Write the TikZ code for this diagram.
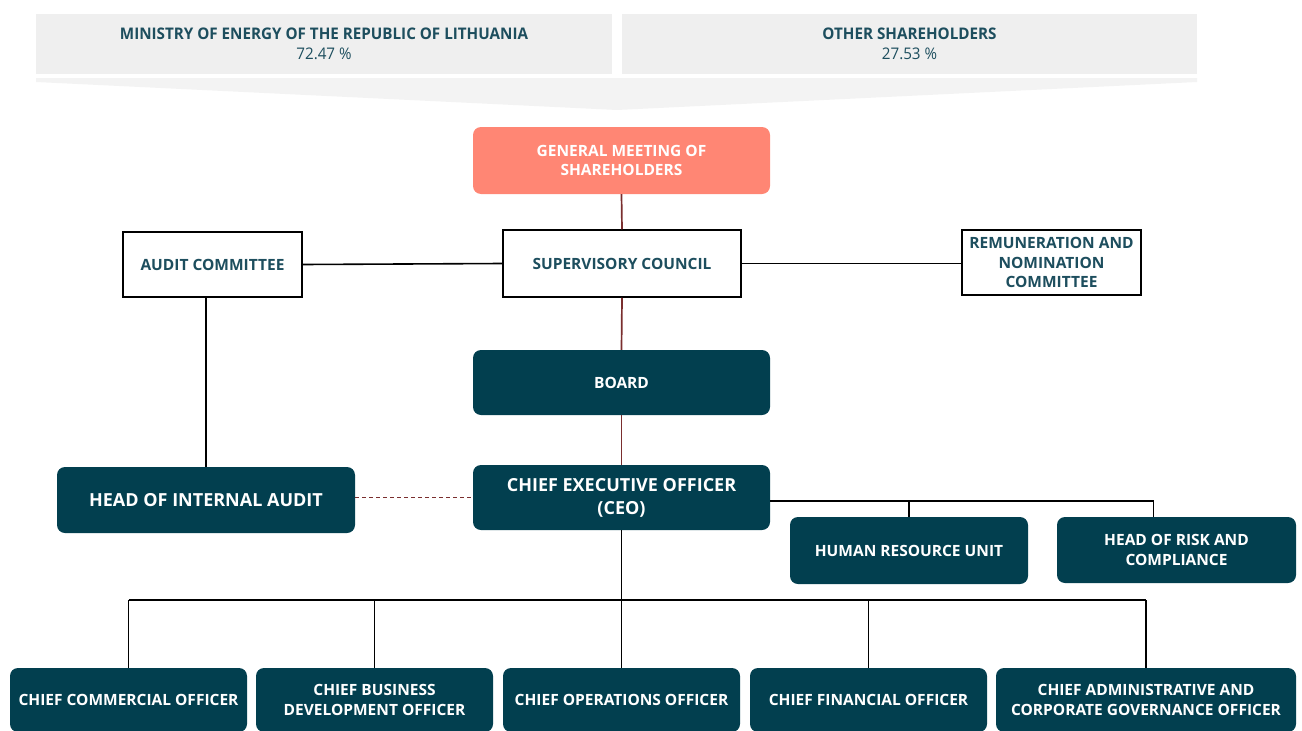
\documentclass[tikz,border=0pt]{standalone}
\usepackage{fontspec}
\usepackage{graphicx}
\setmainfont{Open Sans}
\usetikzlibrary{calc}
\definecolor{teal}{HTML}{023F4F}
\definecolor{tealtext}{HTML}{1D4E5E}
\definecolor{salmon}{HTML}{FF8674}
\definecolor{bannergray}{HTML}{EFEFEF}
\definecolor{chevrongray}{HTML}{F3F3F3}
\definecolor{darkred}{HTML}{7A2E2E}
\tikzset{
  unit/.style={inner sep=0pt, align=center, font=\bfseries\fontsize{15.5}{19.5}\selectfont},
  boxdark/.style={unit, fill=teal, text=white, rounded corners=8pt},
  boxbig/.style={boxdark, font=\bfseries\fontsize{18}{23}\selectfont},
  boxwhite/.style={unit, draw=black, line width=1.5pt, fill=white, text=tealtext},
  boxsalmon/.style={unit, fill=salmon, text=white, rounded corners=8pt},
  banner/.style={inner sep=0pt, align=center, fill=bannergray, text=tealtext,
    font=\bfseries\fontsize{16}{20}\selectfont},
  link/.style={draw=black, line width=1.6pt},
  redlink/.style={draw=darkred, line width=1.7pt},
}
\begin{document}
\begin{tikzpicture}[x=1pt, y=-1pt]
\useasboundingbox (0,0) rectangle (1302,731);

% shareholders banner
\node[banner, minimum width=576pt, minimum height=60pt] (ministry) at (324,44)
  {\scalebox{0.95}[1]{MINISTRY OF ENERGY OF THE REPUBLIC OF LITHUANIA}\\\scalebox{0.95}[1]{\mdseries 72.47 \%}};
\node[banner, minimum width=575pt, minimum height=60pt] (others) at (909.5,44)
  {\scalebox{0.95}[1]{OTHER SHAREHOLDERS}\\\scalebox{0.95}[1]{\mdseries 27.53 \%}};
\fill[chevrongray] (36,78) -- (1197,78) -- (1197,82) -- (617,110) -- (36,82) -- cycle;

% governing bodies
\node[boxsalmon, minimum width=297pt, minimum height=67pt] (gm) at (621.5,160.5)
  {GENERAL MEETING OF\\SHAREHOLDERS};
\node[boxwhite, minimum width=238pt, minimum height=67pt] (sc) at (622,263.5)
  {SUPERVISORY COUNCIL};
\node[boxwhite, minimum width=179pt, minimum height=65pt] (ac) at (212.5,264.5)
  {AUDIT COMMITTEE};
\node[boxwhite, minimum width=179pt, minimum height=65pt] (rem) at (1051.5,262.5)
  {REMUNERATION AND\\NOMINATION\\COMMITTEE};
\node[boxdark, minimum width=297pt, minimum height=65pt] (board) at (621.5,382.5)
  {BOARD};

% management
\node[boxbig, minimum width=297pt, minimum height=65pt] (ceo) at (621.5,497.5)
  {CHIEF EXECUTIVE OFFICER\\(CEO)};
\node[boxbig, minimum width=298pt, minimum height=66pt] (hia) at (206,500)
  {HEAD OF INTERNAL AUDIT};
\node[boxdark, minimum width=238pt, minimum height=67pt] (hr) at (909,550.5)
  {HUMAN RESOURCE UNIT};
\node[boxdark, minimum width=239pt, minimum height=66pt] (risk) at (1176.5,550)
  {HEAD OF RISK AND\\COMPLIANCE};

% chief officers
\node[boxdark, minimum width=237pt, minimum height=64pt] (cco) at (128.5,700)
  {CHIEF COMMERCIAL OFFICER};
\node[boxdark, minimum width=237pt, minimum height=64pt] (cbdo) at (374.5,700)
  {CHIEF BUSINESS\\DEVELOPMENT OFFICER};
\node[boxdark, minimum width=237pt, minimum height=64pt] (coo) at (621.5,700)
  {CHIEF OPERATIONS OFFICER};
\node[boxdark, minimum width=237pt, minimum height=64pt] (cfo) at (868.5,700)
  {CHIEF FINANCIAL OFFICER};
\node[boxdark, minimum width=300pt, minimum height=64pt] (cacgo) at (1146,700)
  {CHIEF ADMINISTRATIVE AND\\CORPORATE GOVERNANCE OFFICER};

% reporting lines
\draw[redlink] (gm.south) -- (sc.north);
\draw[redlink] (sc.south) -- (board.north);
\draw[redlink] (board.south) -- (ceo.north);
\draw[link] (sc.west) -- (ac.east);
\draw[link] (sc.east) -- (sc.east -| rem.west);
\draw[link] (ac.south -| hia.north) -- (hia.north);
\draw[redlink, dash pattern=on 4pt off 3pt] (ceo.west -| hia.east) -- (ceo.west);

% staff units to the right of the CEO
\coordinate (riskdrop) at ($(risk.north)+(-23,0)$);
\coordinate (staffbus) at ($(ceo.east)+(0,3.5)$);
\draw[link] (staffbus) -- (staffbus -| riskdrop) -- (riskdrop);
\draw[link] (staffbus -| hr.north) -- (hr.north);

% chief officers bus
\coordinate (bus) at ($(ceo.south)+(0,70)$);
\draw[link] (ceo.south) -- (bus);
\draw[link] (bus -| cco.north) -- (bus -| cacgo.north);
\foreach \n in {cco, cbdo, coo, cfo, cacgo}
  \draw[link] (bus -| \n.north) -- (\n.north);
\end{tikzpicture}
\end{document}
